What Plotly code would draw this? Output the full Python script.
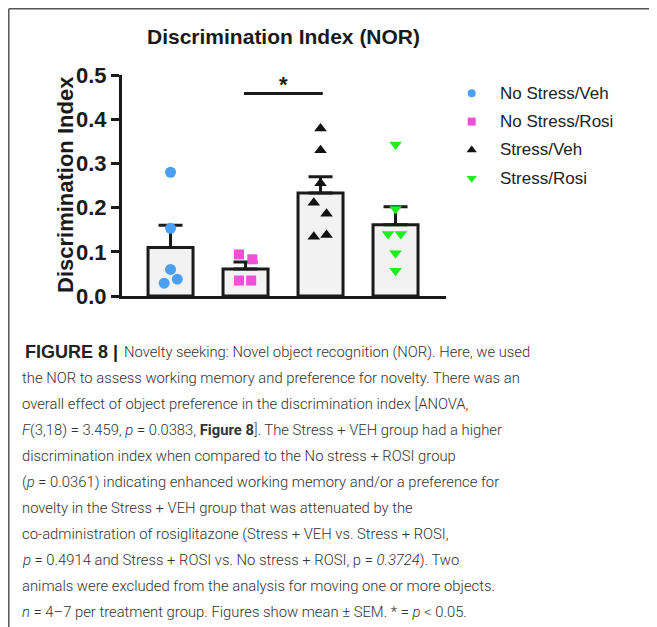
import plotly.graph_objects as go

# the page body adds an 8px margin, so the figure is drawn 8px smaller and
# reference pixel positions are shifted by that offset
OFF = 8
W, H = 657 - OFF, 627 - OFF

# ---- data ----
groups = ["No Stress/Veh", "No Stress/Rosi", "Stress/Veh", "Stress/Rosi"]
means = [0.110, 0.061, 0.233, 0.161]
sems = [0.050, 0.016, 0.037, 0.041]
vals_nsv = [0.280, 0.153, 0.060, 0.029, 0.038]
vals_nsr = [0.094, 0.083, 0.035, 0.035]
vals_sv = [0.379, 0.330, 0.255, 0.211, 0.186, 0.134, 0.138]
vals_sr = [0.343, 0.197, 0.140, 0.140, 0.097, 0.057]
jit_nsv = [0, 0, 0, -0.085, 0.09]
jit_nsr = [-0.087, 0.09, -0.087, 0.075]
jit_sv = [0, 0, 0, -0.09, 0.08, -0.09, 0.08]
jit_sr = [0, 0, -0.1, 0.07, 0, 0]
yticks = [0.0, 0.1, 0.2, 0.3, 0.4, 0.5]
sig_pair = [1, 2]
sig_y = 0.458

colors = ["#4a9ff5", "#f050d8", "#111111", "#1cf01c"]
symbols = ["circle", "square", "triangle-up", "triangle-down"]
msizes = [11, 10, 11, 11]
lsizes = [8, 8, 9, 9]

def fx(px):
    return (px - OFF) / W

def fy(py):
    return 1 - (py - OFF) / H

INK = "#1a1a1a"
ARIAL = "Liberation Sans, Arial, sans-serif"

fig = go.Figure()

fig.add_trace(go.Bar(
    x=list(range(4)), y=means, width=0.6,
    marker=dict(color="#f2f2f2", line=dict(color=INK, width=3)),
    error_y=dict(type="data", symmetric=False, array=sems, arrayminus=[0] * 4,
                 thickness=3, width=12, color=INK),
    showlegend=False, hoverinfo="skip"))

point_sets = [(vals_nsv, jit_nsv), (vals_nsr, jit_nsr), (vals_sv, jit_sv), (vals_sr, jit_sr)]
for i, (vals, jit) in enumerate(point_sets):
    fig.add_trace(go.Scatter(
        x=[i + j for j in jit], y=vals, mode="markers",
        marker=dict(symbol=symbols[i], color=colors[i], size=msizes[i], line=dict(width=0)),
        showlegend=False, name=groups[i]))

# legend on a pixel-space axis pair covering the whole figure
leg_x = 471.7
leg_y0, leg_dy = 93.3, 28.3
for i, g in enumerate(groups):
    fig.add_trace(go.Scatter(
        x=[leg_x - OFF], y=[leg_y0 + i * leg_dy - OFF], mode="markers", xaxis="x2", yaxis="y2",
        marker=dict(symbol=symbols[i], color=colors[i], size=lsizes[i], line=dict(width=0)),
        showlegend=False, hoverinfo="skip"))
    fig.add_annotation(x=fx(498), y=fy(leg_y0 + i * leg_dy), xref="paper", yref="paper",
                       text=g, showarrow=False, xanchor="left", yanchor="middle",
                       font=dict(family=ARIAL, size=17, color="#222222"))

# significance bar
fig.add_shape(type="line", x0=sig_pair[0] - 0.02, x1=sig_pair[1] + 0.03, y0=sig_y, y1=sig_y,
              xref="x", yref="y", line=dict(color=INK, width=3))
fig.add_annotation(x=(sig_pair[0] + sig_pair[1]) / 2, y=sig_y + 0.02, xref="x", yref="y",
                   text="<b>*</b>", showarrow=False, yanchor="middle",
                   font=dict(family=ARIAL, size=22, color=INK))

# title & y-axis title
fig.add_annotation(x=fx(283), y=fy(37), xref="paper", yref="paper",
                   text="<b>Discrimination Index (NOR)</b>", showarrow=False,
                   xanchor="center", yanchor="middle",
                   font=dict(family=ARIAL, size=21, color=INK))
fig.add_annotation(x=fx(65), y=fy(185), xref="paper", yref="paper",
                   text="<b>Discrimination Index</b>", showarrow=False, textangle=-90,
                   xanchor="center", yanchor="middle",
                   font=dict(family=ARIAL, size=22, color=INK))

# caption
CAP = "Roboto, Liberation Sans, sans-serif"
CAP_SIZE = 14.8
fig.add_annotation(x=fx(23), y=fy(351.7), xref="paper", yref="paper",
                   text="<b>FIGURE 8 |</b>", showarrow=False, xanchor="left", yanchor="middle",
                   font=dict(family=ARIAL, size=18, color="#222222"))
caption = [
    "Novelty seeking: Novel object recognition (NOR). Here, we used",
    "the NOR to assess working memory and preference for novelty. There was an",
    "overall effect of object preference in the discrimination index [ANOVA,",
    "<i>F</i>(3,18) = 3.459, <i>p</i> = 0.0383, <b>Figure 8</b>]. The Stress + VEH group had a higher",
    "discrimination index when compared to the No stress + ROSI group",
    "(<i>p</i> = 0.0361) indicating enhanced working memory and/or a preference for",
    "novelty in the Stress + VEH group that was attenuated by the",
    "co-administration of rosiglitazone (Stress + VEH vs. Stress + ROSI,",
    "<i>p</i> = 0.4914 and Stress + ROSI vs. No stress + ROSI, p = <i>0.3724</i>). Two",
    "animals were excluded from the analysis for moving one or more objects.",
    "<i>n</i> = 4–7 per treatment group. Figures show mean ± SEM. * = <i>p</i> &lt; 0.05.",
]
for k, line in enumerate(caption):
    fig.add_annotation(x=fx(122 if k == 0 else 20), y=fy(351.7 + 26 * k),
                       xref="paper", yref="paper",
                       text=line, showarrow=False, xanchor="left", yanchor="middle",
                       font=dict(family=CAP, size=CAP_SIZE, color="#333333", weight=300))

# frame lines (top and left edges of the figure box)
fig.add_shape(type="line", xref="paper", yref="paper", x0=fx(8.8), x1=fx(8.8), y0=fy(8.8), y1=0,
              line=dict(color="#555555", width=1.5))
fig.add_shape(type="line", xref="paper", yref="paper", x0=fx(8.8), x1=1, y0=fy(8.8), y1=fy(8.8),
              line=dict(color="#555555", width=1.5))

fig.update_layout(
    width=W, height=H, margin=dict(l=0, r=0, t=0, b=0, pad=0, autoexpand=False),
    paper_bgcolor="white", plot_bgcolor="rgba(0,0,0,0)",
    xaxis=dict(domain=[fx(122), fx(446)], range=[-0.647, 3.673], showline=True,
               linewidth=3, linecolor=INK, showticklabels=False, ticks="",
               showgrid=False, zeroline=False, automargin=False),
    yaxis=dict(domain=[fy(296), fy(75)], range=[0, 0.5], showline=True, linewidth=3,
               linecolor=INK, tickvals=yticks, ticktext=["%.1f" % v for v in yticks],
               ticks="outside", ticklen=8, tickwidth=3, tickcolor=INK,
               tickfont=dict(family=ARIAL, size=22, color=INK, weight="bold"),
               showgrid=False, zeroline=False, automargin=False),
    xaxis2=dict(domain=[0, 1], range=[0, W], visible=False, anchor="y2", automargin=False),
    yaxis2=dict(domain=[0, 1], range=[H, 0], visible=False, anchor="x2", automargin=False),
    showlegend=False,
)

fig.write_html("out.html")
